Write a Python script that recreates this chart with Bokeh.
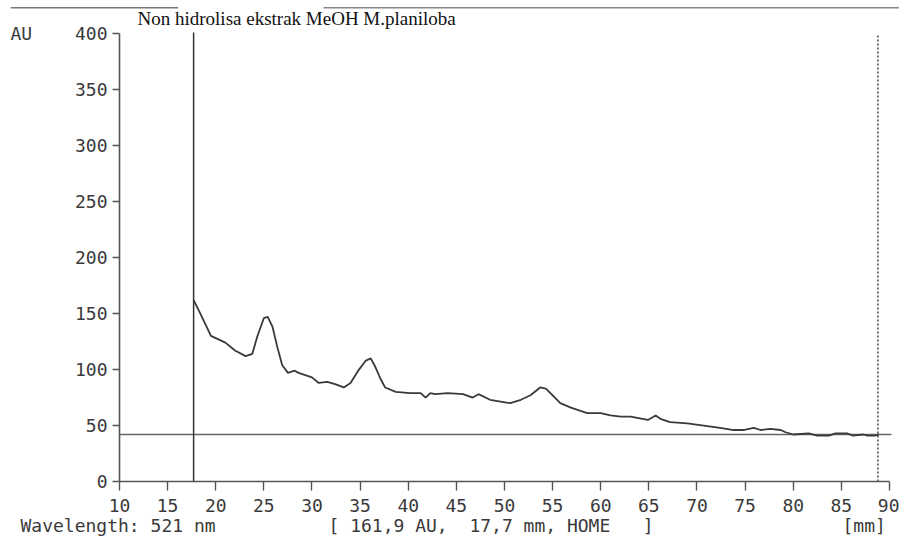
from bokeh.plotting import figure
from bokeh.models import Range1d, LinearAxis, FixedTicker, Label
from bokeh.embed import file_html
from bokeh.resources import INLINE

# ---- data ----
mm = [17.7, 18.4, 19.5, 20.0, 21.0, 22.0, 23.1, 23.8, 24.3, 25.0, 25.4, 25.9, 26.4, 26.9, 27.5,
      28.2, 28.6, 29.3, 30.0, 30.7, 31.6, 32.4, 33.3, 34.0, 34.8, 35.6, 36.1, 36.6, 37.1, 37.6,
      38.7, 40.2, 41.3, 41.8, 42.3, 42.8, 44.1, 45.7, 46.7, 47.3, 48.5, 49.9, 50.6, 51.7, 52.7,
      53.7, 54.3, 55.0, 55.8, 56.9, 57.9, 58.6, 60.0, 61.0, 62.1, 63.1, 64.9, 65.7, 66.2, 67.2,
      69.0, 70.7, 72.4, 73.8, 74.8, 75.9, 76.6, 77.6, 78.7, 79.2, 80.0, 81.6, 82.5, 83.7, 84.4,
      85.6, 86.2, 87.3, 87.7, 88.5, 88.9]
au = [161.9, 150, 130, 128, 124, 117, 112, 114, 129, 146, 147, 138, 120, 104, 97,
      99, 97, 95, 93, 88, 89, 87, 84, 88, 99, 108, 110, 102, 92, 84,
      80, 79, 79, 75, 79, 78, 79, 78, 75, 78, 73, 71, 70, 73, 77,
      84, 83, 77, 70, 66, 63, 61, 61, 59, 58, 58, 55, 59, 56, 53,
      52, 50, 48, 46, 46, 48, 46, 47, 46, 44, 42, 43, 41, 41, 43,
      43, 41, 42, 41, 41, 42]
x_ticks = list(range(10, 91, 5))
y_ticks = list(range(0, 401, 50))
cursor_mm = [17.7, 17.7]
cursor_au = [0, 401]
end_mm = [88.8, 88.8]
end_au = [0, 400]
base_mm = [10, 90.2]
base_au = [42, 42]
# scanned page edge at the very top
edge1_mm = [-1.3, 16.1]
edge2_mm = [31.2, 91.1]
edge_au = [423, 423]

title_text = "Non hidrolisa ekstrak MeOH M.planiloba"
status_left = "Wavelength: 521 nm"
status_mid = "[ 161,9 AU,\u00a0\u00a017,7 mm, HOME\u00a0\u00a0\u00a0]"
status_right = "[mm]"

MONO = "DejaVu Sans Mono"
INK = "#3a3a3a"
FS = "18px"

p = figure(width=899, height=547, output_backend="svg", toolbar_location=None,
           x_range=Range1d(-2.364, 91.04), y_range=Range1d(-58.9, 429.5),
           x_axis_location=None, y_axis_location=None, min_border=0)
p.grid.visible = False
p.outline_line_color = None
p.background_fill_color = "white"
p.border_fill_color = "white"

xa = LinearAxis(fixed_location=0, bounds=(10, 90), ticker=FixedTicker(ticks=x_ticks))
ya = LinearAxis(fixed_location=10, bounds=(0, 400), ticker=FixedTicker(ticks=y_ticks))
for ax in (xa, ya):
    ax.axis_line_color = "#555555"
    ax.axis_line_width = 1.6
    ax.major_tick_line_color = "#555555"
    ax.major_tick_line_width = 1.4
    ax.minor_tick_line_color = None
    ax.major_tick_in = 0
    ax.major_label_text_font = MONO
    ax.major_label_text_font_size = FS
    ax.major_label_text_color = INK
xa.major_tick_out = 9
xa.major_label_standoff = 8
ya.major_tick_out = 7
ya.major_label_standoff = 5
p.add_layout(xa, "below")
p.add_layout(ya, "left")

# page edge, baseline, cursor and end marker
p.line(edge1_mm, edge_au, line_color="#777777", line_width=1.5)
p.line(edge2_mm, edge_au, line_color="#888888", line_width=1.5)
p.line(base_mm, base_au, line_color="#666666", line_width=1.5)
p.line(cursor_mm, cursor_au, line_color="#333333", line_width=1.5)
p.line(end_mm, end_au, line_color="#444444", line_width=1.5, line_dash="2 2")

# trace
p.line(mm, au, line_color="#3a3a3a", line_width=1.8)

p.add_layout(Label(x=137, y=547 - 18, x_units="screen", y_units="screen", text=title_text,
                   text_font="Liberation Serif", text_font_size="19px", text_color="#111111",
                   text_baseline="middle"))
p.add_layout(Label(x=10, y=547 - 33, x_units="screen", y_units="screen", text="AU",
                   text_font=MONO, text_font_size=FS, text_color=INK, text_baseline="middle"))
p.add_layout(Label(x=20, y=547 - 525, x_units="screen", y_units="screen", text=status_left,
                   text_font=MONO, text_font_size=FS, text_color=INK, text_baseline="middle"))
p.add_layout(Label(x=328, y=547 - 525, x_units="screen", y_units="screen", text=status_mid,
                   text_font=MONO, text_font_size=FS, text_color=INK, text_baseline="middle"))
p.add_layout(Label(x=842, y=547 - 525, x_units="screen", y_units="screen", text=status_right,
                   text_font=MONO, text_font_size=FS, text_color=INK, text_baseline="middle"))

open("out.html", "w").write(file_html(p, INLINE))
